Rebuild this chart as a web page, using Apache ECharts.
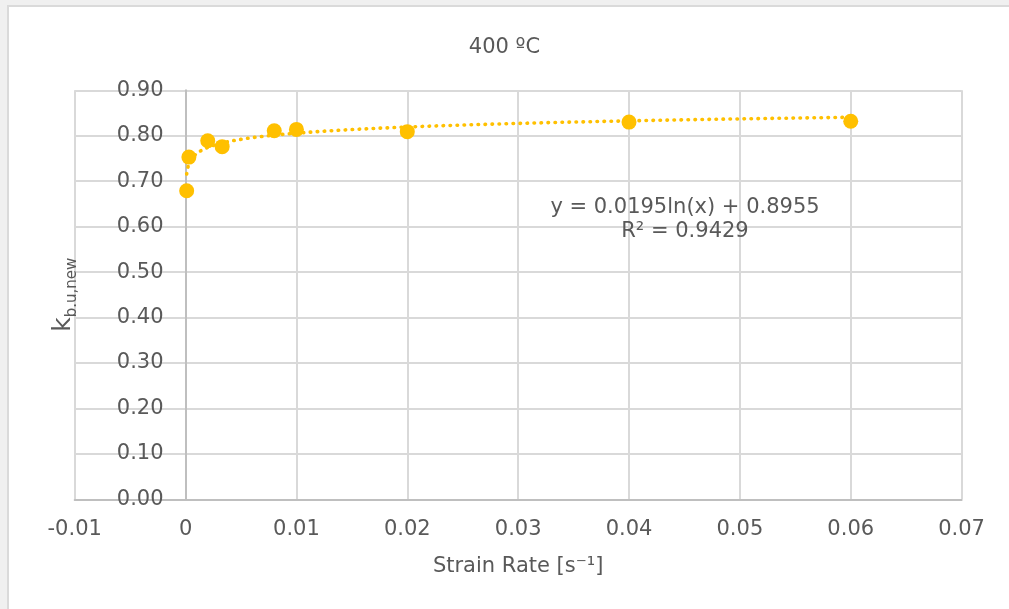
<!DOCTYPE html>
<html>
<head>
<meta charset="utf-8">
<title>400 ºC</title>
<script src="https://cdn.jsdelivr.net/npm/echarts@6/dist/echarts.min.js"></script>
<style>
  html, body { margin: 0; padding: 0; background: #f0f0f0; overflow: hidden; }
  #frame {
    position: absolute; left: 7px; top: 5px; width: 1010px; height: 610px;
    background: #ffffff; border-left: 2px solid #dadada; border-top: 2px solid #dadada;
  }
  #chart { position: absolute; left: 0; top: 0; width: 1009px; height: 609px; }
</style>
</head>
<body>
<div id="frame"></div>
<div id="chart"></div>
<script>
// Measured strain rates [1/s] and the corresponding k_b,u,new factors at 400 ºC
const strainRate = [0.0001, 0.0003, 0.002, 0.0033, 0.008, 0.01, 0.02, 0.04, 0.06];
const kFactor    = [0.679, 0.753, 0.789, 0.776, 0.811, 0.814, 0.809, 0.830, 0.832];

// Logarithmic fit reported for the series: y = a ln(x) + b
const fitSlope = 0.0195;
const fitIntercept = 0.8955;
const fitR2 = 0.9429;

// Axis ranges
const xRange = { min: -0.01, max: 0.07, step: 0.01 };
const yRange = { min: 0, max: 0.9, step: 0.1 };

const titleText = '400 ºC';
const xName = 'Strain Rate [s⁻¹]';

// Trendline evaluated across the measured range (log-spaced so the steep start is smooth)
const trend = [];
{
  const lo = Math.log(Math.min(...strainRate));
  const hi = Math.log(Math.max(...strainRate));
  const n = 200;
  for (let i = 0; i <= n; i++) {
    const x = Math.exp(lo + (hi - lo) * i / n);
    trend.push([x, fitSlope * Math.log(x) + fitIntercept]);
  }
}

const textColor = '#595959';
const font = 'DejaVu Sans, Verdana, sans-serif';
const gold = '#FFC000';

const W = 1009;
const grid = { left: 74.7, right: 47.4, top: 90.3, bottom: 109.7 };
// the value axis sits on x = 0, so shift it inward from the plot's left edge
const plotW = W - grid.left - grid.right;
const yAxisShift = (0 - xRange.min) / (xRange.max - xRange.min) * plotW;

const chart = echarts.init(document.getElementById('chart'), null, { renderer: 'canvas' });

chart.setOption({
  backgroundColor: 'transparent',
  animation: false,
  title: {
    text: titleText,
    left: 'center',
    top: 32,
    textStyle: { color: textColor, fontFamily: font, fontSize: 21, fontWeight: 'normal' }
  },
  grid: Object.assign({ containLabel: false, outerBoundsMode: 'none' }, grid),
  xAxis: {
    type: 'value',
    min: xRange.min, max: xRange.max, interval: xRange.step,
    name: xName,
    nameLocation: 'middle',
    nameGap: 57,
    nameTextStyle: { color: textColor, fontFamily: font, fontSize: 21 },
    axisLine: { onZero: false, lineStyle: { color: '#bfbfbf', width: 2 } },
    axisTick: { show: false },
    axisLabel: {
      color: textColor, fontFamily: font, fontSize: 21, margin: 20,
      formatter: v => String(Number(v.toFixed(2)))
    },
    splitLine: { show: true, lineStyle: { color: '#d9d9d9', width: 2 } }
  },
  yAxis: {
    type: 'value',
    min: yRange.min, max: yRange.max, interval: yRange.step,
    offset: -yAxisShift,
    name: '{k|k}{s|b.u,new}',
    nameLocation: 'middle',
    nameGap: 110,
    nameRotate: 90,
    nameTextStyle: {
      color: textColor, fontFamily: font,
      rich: {
        k: { fontSize: 25, color: textColor, fontFamily: font, verticalAlign: 'bottom' },
        s: { fontSize: 15, color: textColor, fontFamily: font, verticalAlign: 'bottom', padding: [0, 0, -4, 0] }
      }
    },
    axisLine: { show: true, onZero: false, lineStyle: { color: '#bfbfbf', width: 2 } },
    axisTick: { show: false },
    axisLabel: {
      color: textColor, fontFamily: font, fontSize: 21, margin: 22,
      formatter: v => v.toFixed(2)
    },
    splitLine: { show: true, lineStyle: { color: '#d9d9d9', width: 2 } }
  },
  series: [
    {
      name: 'Log. fit',
      type: 'line',
      data: trend,
      showSymbol: false,
      smooth: false,
      z: 2,
      lineStyle: { color: gold, width: 3.6, type: [0.5, 6.5], cap: 'round' },
      silent: true
    },
    {
      name: 'k_b,u,new',
      type: 'scatter',
      data: strainRate.map((x, i) => [x, kFactor[i]]),
      symbol: 'circle',
      symbolSize: 15,
      z: 3,
      itemStyle: { color: gold, opacity: 1 }
    }
  ],
  graphic: [
    {
      type: 'text',
      x: 685, y: 196,
      z: 100,
      style: {
        text: 'y = ' + fitSlope + 'ln(x) + ' + fitIntercept + '\nR² = ' + fitR2,
        fill: textColor, font: '21px ' + font, align: 'center', lineHeight: 24
      }
    }
  ]
});
</script>
</body>
</html>
